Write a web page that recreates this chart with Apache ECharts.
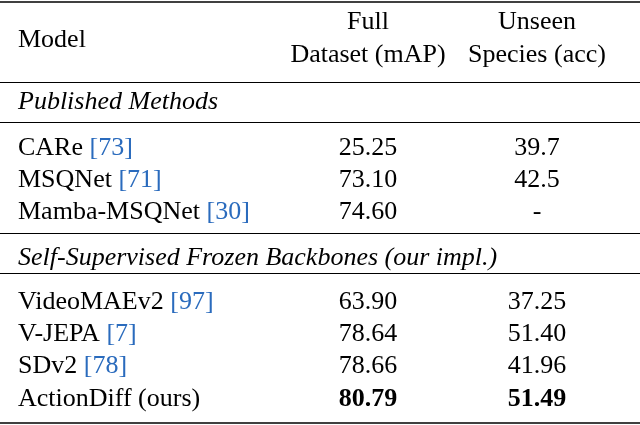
<!DOCTYPE html>
<html><head><meta charset="utf-8">
<script src="https://cdn.jsdelivr.net/npm/echarts@6/dist/echarts.min.js"></script>
<style>html,body{margin:0;padding:0;background:#fff}#c{width:640px;height:425px}</style>
</head><body><div id="c"></div>
<script>
const headers=['Model','Full\nDataset (mAP)','Unseen\nSpecies (acc)'];
const sections=['Published Methods','Self-Supervised Frozen Backbones (our impl.)'];
const models=['CARe','MSQNet','Mamba-MSQNet','VideoMAEv2','V-JEPA','SDv2','ActionDiff (ours)'];
const refs=['73','71','30','97','7','78',''];
const fullMAP=['25.25','73.10','74.60','63.90','78.64','78.66','80.79'];
const unseenAcc=['39.7','42.5','-','37.25','51.40','41.96','51.49'];
const bestRow=6;

// layout
const colX=[18,368,537];
const rowY=[148,180,212,302,334,366,399];
const secY=[102,258];
const F='Liberation Serif, Times New Roman, serif';
const FS=26;
const blue='#2a6bbd';

const pts=[];
pts.push({value:[colX[0],40],label:{formatter:headers[0],position:'right',distance:0}});
pts.push({value:[colX[1],39],label:{formatter:headers[1],position:'inside',align:'center',lineHeight:33}});
pts.push({value:[colX[2],39],label:{formatter:headers[2],position:'inside',align:'center',lineHeight:33}});
sections.forEach((s,i)=>pts.push({value:[colX[0],secY[i]],label:{formatter:s,position:'right',distance:0,fontStyle:'italic'}}));
models.forEach((m,i)=>{
  const f=refs[i]?`{n|${m} }{r|[${refs[i]}]}`:`{n|${m}}`;
  pts.push({value:[colX[0],rowY[i]],label:{formatter:f,position:'right',distance:0}});
  const bw=i===bestRow?'bold':'normal';
  pts.push({value:[colX[1],rowY[i]],label:{formatter:fullMAP[i],position:'inside',align:'center',fontWeight:bw}});
  pts.push({value:[colX[2],rowY[i]],label:{formatter:unseenAcc[i],position:'inside',align:'center',fontWeight:bw}});
});

const rules=[[2,1.6],[82,1],[122,1],[233,1],[273,1],[423,1.6]];
const chart=echarts.init(document.getElementById('c'));
chart.setOption({
  animation:false,
  grid:{left:0,right:0,top:0,bottom:0},
  xAxis:{type:'value',min:0,max:640,show:false},
  yAxis:{type:'value',min:0,max:425,inverse:true,show:false},
  series:[{type:'scatter',symbolSize:0,data:pts,itemStyle:{opacity:1,color:'#000'},
    label:{show:true,color:'#000',opacity:1,fontFamily:F,fontSize:FS,
      rich:{n:{color:'#000',fontFamily:F,fontSize:FS},r:{color:blue,fontFamily:F,fontSize:FS}}},
    markLine:{silent:true,symbol:'none',label:{show:false},
      data:rules.map(r=>[{coord:[0,r[0]],lineStyle:{width:r[1],color:'#000',type:'solid',opacity:1}},{coord:[640,r[0]]}])}
  }]
});
</script></body></html>
